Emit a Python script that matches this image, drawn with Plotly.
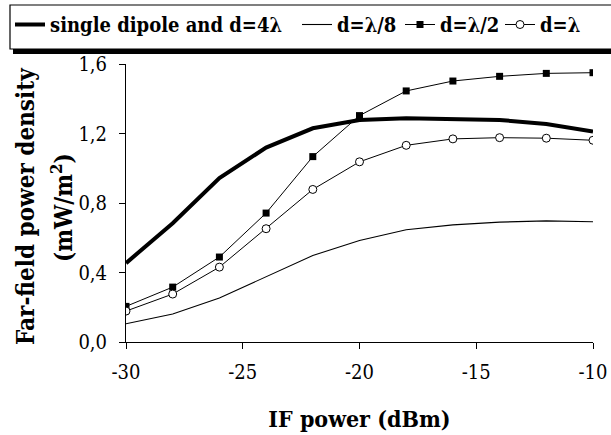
import plotly.graph_objects as go

# ---- data ----
if_power = [-30, -28, -26, -24, -22, -20, -18, -16, -14, -12, -10]
single_4l = [0.454, 0.684, 0.943, 1.119, 1.230, 1.278, 1.288, 1.284, 1.278, 1.255, 1.211]
d_l8 = [0.105, 0.161, 0.253, 0.377, 0.498, 0.584, 0.646, 0.674, 0.690, 0.697, 0.692]
d_l2 = [0.205, 0.316, 0.489, 0.742, 1.067, 1.303, 1.445, 1.502, 1.529, 1.546, 1.550]
d_l = [0.178, 0.276, 0.431, 0.652, 0.878, 1.037, 1.132, 1.169, 1.176, 1.173, 1.161]
names = ["single dipole and d=4λ", "d=λ/8", "d=λ/2", "d=λ"]
x_tickvals = [-30, -25, -20, -15, -10]
x_ticktext = ["-30", "-25", "-20", "-15", "-10"]
y_tickvals = [0.0, 0.4, 0.8, 1.2, 1.6]
y_ticktext = ["0,0", "0,4", "0,8", "1,2", "1,6"]

W, H = 611, 435
L, R, T, B = 126, 593, 64, 342
FONT = "DejaVu Serif Condensed, DejaVu Serif"


def px_x(p):
    return (p - L) / (R - L)


def px_y(p):
    return (B - p) / (B - T)


fig = go.Figure()
fig.add_trace(go.Scatter(x=if_power, y=single_4l, name=names[0], mode="lines",
                         line=dict(color="black", width=4), legend="legend"))
fig.add_trace(go.Scatter(x=if_power, y=d_l8, name=names[1], mode="lines",
                         line=dict(color="black", width=1.1), legend="legend2"))
fig.add_trace(go.Scatter(x=if_power, y=d_l2, name=names[2], mode="lines+markers",
                         line=dict(color="black", width=1),
                         marker=dict(symbol="square", size=7, color="black"),
                         legend="legend3"))
fig.add_trace(go.Scatter(x=if_power, y=d_l, name=names[3], mode="lines+markers",
                         line=dict(color="black", width=1),
                         marker=dict(symbol="circle", size=8, color="white",
                                     line=dict(color="black", width=1)),
                         legend="legend4"))


def legend_at(px):
    return dict(orientation="h", xref="container", yref="container",
                x=px / W, y=1 - 5 / H, xanchor="left", yanchor="top",
                bgcolor="rgba(0,0,0,0)", borderwidth=0,
                font=dict(family=FONT, size=20, color="black", weight="bold"),
                itemwidth=30)


tickfont = dict(family=FONT, size=20, color="black")
fig.update_layout(
    width=W, height=H,
    font=dict(family=FONT, color="black"),
    margin=dict(l=L, r=W - R, t=T, b=H - B, autoexpand=False),
    paper_bgcolor="white", plot_bgcolor="white",
    showlegend=True,
    legend=legend_at(10), legend2=legend_at(297),
    legend3=legend_at(400), legend4=legend_at(500),
    xaxis=dict(range=[-30, -10], tickvals=x_tickvals, ticktext=x_ticktext,
               ticks="outside", ticklen=6, tickwidth=1, tickcolor="black",
               showline=True, linecolor="black", linewidth=1,
               showgrid=False, zeroline=False, tickfont=tickfont,
               ticklabelstandoff=6,
               title=dict(text="<b>IF power (dBm)</b>",
                          font=dict(family=FONT, size=23, color="black"),
                          standoff=27)),
    yaxis=dict(range=[0, 1.6], tickvals=y_tickvals, ticktext=y_ticktext,
               ticks="outside", ticklen=6, tickwidth=1, tickcolor="black",
               showline=True, linecolor="black", linewidth=1,
               showgrid=False, zeroline=False, tickfont=tickfont,
               ticklabelstandoff=8),
    xaxis2=dict(range=[-30, -10], overlaying="x", anchor="y", side="bottom",
                dtick=1, tick0=-30, ticks="inside", ticklen=6, tickwidth=1,
                tickcolor="black", showticklabels=False, showline=False,
                showgrid=False, zeroline=False),
    yaxis2=dict(range=[0, 1.6], overlaying="y", anchor="x", side="left",
                dtick=0.1, tick0=0, ticks="inside", ticklen=6, tickwidth=1,
                tickcolor="black", showticklabels=False, showline=False,
                showgrid=False, zeroline=False),
)

# legend frame with shadow
fig.add_shape(type="rect", xref="paper", yref="paper",
              x0=px_x(13), x1=px_x(720), y0=px_y(54), y1=px_y(9),
              fillcolor="black", line=dict(width=0), layer="above")
fig.add_shape(type="rect", xref="paper", yref="paper",
              x0=px_x(10), x1=px_x(700), y0=px_y(49), y1=px_y(5),
              fillcolor="white", line=dict(color="black", width=1.2), layer="above")

# y axis title in two lines
fig.add_annotation(text="<b>Far-field power density</b>", textangle=-90,
                   xref="paper", yref="paper", x=px_x(26), y=px_y(206),
                   xanchor="center", yanchor="middle", showarrow=False,
                   font=dict(family=FONT, size=24, color="black"))
fig.add_annotation(text="<b>(mW/m<sup>2</sup>)</b>", textangle=-90,
                   xref="paper", yref="paper", x=px_x(62), y=px_y(208),
                   xanchor="center", yanchor="middle", showarrow=False,
                   font=dict(family=FONT, size=24, color="black"))

fig.write_html("out.html")
